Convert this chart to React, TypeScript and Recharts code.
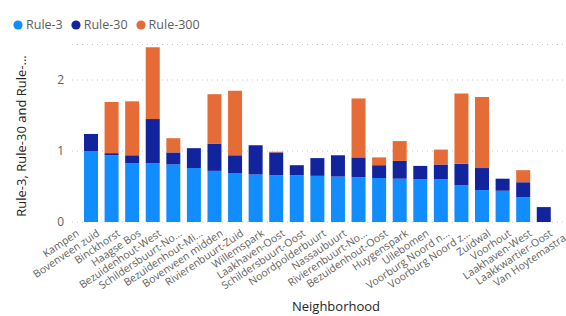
import React from 'react';
import { BarChart, Bar, XAxis, YAxis, CartesianGrid } from 'recharts';

const categories = [
  'Kampen', 'Bovenveen zuid', 'Binckhorst', 'Haagse Bos', 'Bezuidenhout-West',
  'Schildersbuurt-No...', 'Bezuidenhout-Mi...', 'Bovenveen midden', 'Rivierenbuurt-Zuid',
  'Willemspark', 'Laakhaven-Oost', 'Schildersbuurt-Oost', 'Noordpolderbuurt', 'Nassaubuurt',
  'Rivierenbuurt-No...', 'Bezuidenhout-Oost', 'Huygenspark', 'Uilebomen', 'Voorburg Noord n...',
  'Voorburg Noord z...', 'Zuidwal', 'Voorhout', 'Laakhaven-West', 'Laakkwartier-Oost',
  'Van Hoytemastra...',
];

const rule3 = [1.0, 0.94, 0.83, 0.83, 0.81, 0.76, 0.72, 0.69, 0.67, 0.66, 0.66, 0.65, 0.64, 0.63, 0.62, 0.61, 0.6, 0.6, 0.52, 0.45, 0.44, 0.35, 0, 0, 0];
const rule30 = [0.24, 0.03, 0.11, 0.62, 0.17, 0.28, 0.38, 0.25, 0.41, 0.32, 0.14, 0.25, 0.3, 0.28, 0.18, 0.25, 0.19, 0.21, 0.3, 0.31, 0.17, 0.21, 0.21, 0, 0];
const rule300 = [0, 0.72, 0.76, 1.01, 0.2, 0, 0.7, 0.91, 0, 0.01, 0, 0, 0, 0.83, 0.11, 0.28, 0, 0.21, 0.99, 1.0, 0, 0.17, 0, 0, 0];

const seriesNames = ['Rule-3', 'Rule-30', 'Rule-300'];
const yTicks = [0, 1, 2];
const yAxisTitle = 'Rule-3, Rule-30 and Rule-...';
const xAxisTitle = 'Neighborhood';

const COLORS = ['#118DFF', '#12239E', '#E66C37'];
const FONT = "'Segoe UI', 'Open Sans', sans-serif";

const data = categories.map((name, i) => ({
  name,
  r3: rule3[i],
  r30: rule30[i],
  r300: rule300[i],
}));

const XTick = (props: any) => {
  const { x, y, payload } = props;
  return (
    <g transform={`translate(${x - 11},${y + 5}) rotate(-34)`}>
      <text x={0} y={0} textAnchor="end" fontSize={10.5} fill="#605E5C" fontFamily={FONT}>
        {payload.value}
      </text>
    </g>
  );
};

const YTick = (props: any) => {
  const { y, payload } = props;
  return (
    <text x={64} y={y} dy={4} textAnchor="end" fontSize={12} fill="#605E5C" fontFamily={FONT}>
      {payload.value}
    </text>
  );
};

const YTitle = () => (
  <text
    x={0}
    y={0}
    transform="translate(26,136) rotate(-90)"
    textAnchor="middle"
    fontSize={13}
    fill="#252423"
    fontFamily={FONT}
  >
    {yAxisTitle}
  </text>
);

const XTitle = () => (
  <text x={336} y={311} textAnchor="middle" fontSize={13} fill="#252423" fontFamily={FONT}>
    {xAxisTitle}
  </text>
);

export default function App() {
  return (
    <div style={{ position: 'absolute', left: 0, top: 0, width: 566, height: 316, overflow: 'hidden', background: '#fff' }}>
      <div
        style={{
          position: 'absolute',
          left: 13,
          top: 16,
          display: 'flex',
          alignItems: 'center',
          fontFamily: FONT,
          fontSize: 12.5,
          color: '#605E5C',
          whiteSpace: 'nowrap',
        }}
      >
        {seriesNames.map((s, i) => (
          <span key={s} style={{ display: 'inline-flex', alignItems: 'center', marginRight: 8 }}>
            <svg width={10} height={10} style={{ marginRight: 3 }}>
              <circle cx={5} cy={5} r={4.6} fill={COLORS[i]} />
            </svg>
            {s}
          </span>
        ))}
      </div>
      <BarChart
        width={600}
        height={316}
        data={data}
        margin={{ top: 44.5, right: 5, left: 0, bottom: 0 }}
        barCategoryGap="17%"
      >
        <CartesianGrid vertical={false} stroke="#C8C6C4" strokeDasharray="1 4" />
        <XAxis
          dataKey="name"
          interval={0}
          axisLine={false}
          tickLine={false}
          height={94}
          padding={{ left: 8.5, right: 0 }}
          tick={<XTick />}
          label={<XTitle />}
        />
        <YAxis
          width={72}
          domain={[0, 2.5]}
          ticks={yTicks}
          axisLine={false}
          tickLine={false}
          tick={<YTick />}
          label={<YTitle />}
        />
        <Bar dataKey="r3" name={seriesNames[0]} stackId="a" fill={COLORS[0]} isAnimationActive={false} />
        <Bar dataKey="r30" name={seriesNames[1]} stackId="a" fill={COLORS[1]} isAnimationActive={false} />
        <Bar dataKey="r300" name={seriesNames[2]} stackId="a" fill={COLORS[2]} isAnimationActive={false} />
      </BarChart>
    </div>
  );
}
